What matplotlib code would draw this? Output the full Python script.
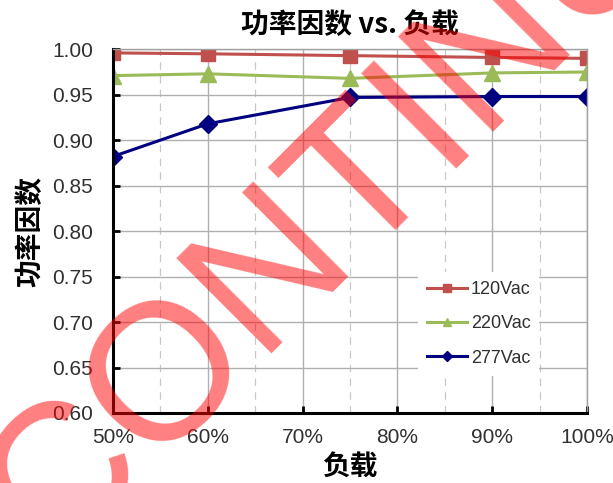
import matplotlib
matplotlib.use('Agg')
import matplotlib.pyplot as plt
from matplotlib.ticker import MultipleLocator, FuncFormatter

# Data
load_pct = [50, 60, 75, 90, 100]
pf_120 = [0.996, 0.995, 0.993, 0.991, 0.990]
pf_220 = [0.971, 0.973, 0.968, 0.974, 0.975]
pf_277 = [0.882, 0.918, 0.947, 0.948, 0.948]
series_names = ['120Vac', '220Vac', '277Vac']

cjk = ['Noto Sans CJK SC', 'DejaVu Sans']
latin = ['Liberation Sans', 'DejaVu Sans']

fig = plt.figure(figsize=(6.13, 4.83), dpi=100)
ax = fig.add_axes([0.184, 0.145, 0.774, 0.753])

ax.plot(load_pct, pf_120, color='#C0504D', lw=2.2, marker='s', ms=10, label=series_names[0])
ax.plot(load_pct, pf_220, color='#9BBB59', lw=2.2, marker='^', ms=11, label=series_names[1])
ax.plot(load_pct, pf_277, color='#000080', lw=2.2, marker='D', ms=9, label=series_names[2])

ax.set_xlim(50, 100)
ax.set_ylim(0.60, 1.00)
ax.xaxis.set_major_locator(MultipleLocator(10))
ax.xaxis.set_minor_locator(MultipleLocator(5))
ax.yaxis.set_major_locator(MultipleLocator(0.05))
ax.xaxis.set_major_formatter(FuncFormatter(lambda v, p: '%d%%' % v))
ax.yaxis.set_major_formatter(FuncFormatter(lambda v, p: '%.2f' % v))

ax.grid(which='major', color='#b0b0b0', lw=1.0, ls='-')
ax.grid(which='minor', axis='x', color='#c8c8c8', lw=0.9, ls=(0, (6, 5)))
ax.set_axisbelow(True)

for s in ['left', 'bottom']:
    ax.spines[s].set_color('black')
    ax.spines[s].set_linewidth(2.2)
for s in ['top', 'right']:
    ax.spines[s].set_color('#a0a0a0')
    ax.spines[s].set_linewidth(1.0)

ax.tick_params(which='major', direction='in', length=5, width=2, color='black',
               labelsize=15, labelcolor='#303030')
ax.tick_params(axis='y', pad=14)
ax.tick_params(axis='x', pad=11)
ax.tick_params(which='minor', length=0)
for lab in ax.get_xticklabels() + ax.get_yticklabels():
    lab.set_family(latin)

ax.set_title('功率因数 vs. 负载', family=cjk, fontsize=20, fontweight='bold', pad=12)
ax.set_xlabel('负载', family=cjk, fontsize=20, fontweight='bold', labelpad=5)
ax.set_ylabel('功率因数', family=cjk, fontsize=20, fontweight='bold', labelpad=6)

leg = ax.legend(loc='center left', bbox_to_anchor=(0.625, 0.245), frameon=True,
                facecolor='white', edgecolor='none', framealpha=1.0, fancybox=False,
                handlelength=2.2, labelspacing=0.95, handletextpad=0.2, borderpad=0.5,
                prop={'family': latin, 'size': 13}, markerscale=0.55)
for t in leg.get_texts():
    t.set_color('#303030')

# watermark
fig.text(344 / 613, 1 - 265 / 483, 'DISCONTINUED', fontsize=140, color='red', alpha=0.5,
         rotation=45, rotation_mode='anchor', ha='center', va='baseline', family=latin)

fig.savefig('out.png', dpi=100)
